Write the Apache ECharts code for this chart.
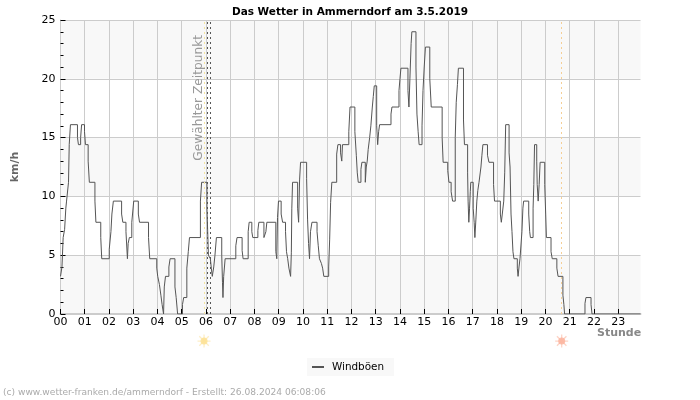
<!DOCTYPE html>
<html>
<head>
<meta charset="utf-8">
<title>Das Wetter in Ammerndorf</title>
<script src="https://cdn.jsdelivr.net/npm/echarts@6/dist/echarts.min.js"></script>
<style>
html,body{margin:0;padding:0;background:#fff;}
#main{width:700px;height:400px;}
</style>
</head>
<body>
<div id="main"></div>
<script>
// Stunden (dezimal) und Windboeen in km/h
var hours = [
 0,.06,.11,.17,.22,.25,.33,.36,.41,.70,
 .74,.83,.87,.99,1.03,1.14,1.19,1.42,1.46,1.66,
 1.70,2.01,2.08,2.12,2.18,2.52,2.57,2.70,2.76,2.79,
 2.84,2.94,3.02,3.21,3.26,3.63,3.68,3.97,4.01,4.08,
 4.14,4.19,4.25,4.28,4.33,4.47,4.52,4.72,4.77,4.83,
 5.03,5.08,5.21,5.27,5.32,5.77,5.82,6.04,6.10,6.18,
 6.22,6.26,6.32,6.37,6.43,6.65,6.68,6.70,6.73,6.79,
 7.23,7.28,7.49,7.53,7.74,7.78,7.89,7.93,8.14,8.18,
 8.39,8.47,8.51,8.88,8.92,8.95,8.99,9.10,9.16,9.28,
 9.32,9.37,9.42,9.49,9.52,9.54,9.57,9.78,9.82,9.86,
 9.90,10.15,10.19,10.23,10.27,10.31,10.37,10.58,10.63,10.68,
 10.76,10.81,10.86,11.06,11.10,11.14,11.19,11.39,11.44,11.55,
 11.60,11.63,11.89,11.94,12.14,12.20,12.24,12.28,12.39,12.43,
 12.57,12.61,12.65,12.69,12.75,12.80,12.86,12.90,12.94,13.04,
 13.08,13.12,13.16,13.63,13.67,13.96,14.00,14.04,14.33,14.37,
 14.41,14.46,14.49,14.66,14.70,14.75,14.79,14.91,14.95,15.00,
 15.05,15.23,15.29,15.74,15.78,15.97,16.02,16.11,16.17,16.28,
 16.32,16.37,16.41,16.62,16.66,16.79,16.81,16.84,16.87,16.90,
 16.92,17.02,17.06,17.09,17.13,17.17,17.21,17.26,17.34,17.38,
 17.42,17.61,17.67,17.86,17.90,18.14,18.18,18.22,18.28,18.32,
 18.36,18.50,18.54,18.58,18.62,18.66,18.70,18.84,18.87,18.91,
 18.95,19.03,19.07,19.10,19.31,19.35,19.38,19.49,19.52,19.55,
 19.64,19.66,19.70,19.74,19.78,19.97,20.01,20.04,20.23,20.28,
 20.47,20.52,20.72,20.76,20.79,21.63,21.67,21.88,21.92,23.92
];
var gusts = [
 3.2,4,6.5,7.2,9,9.6,11.2,14.4,16.1,15,
 14.4,15,16.1,15.5,14.4,13,11.2,9.6,7.8,6.5,
 4.7,5.5,7,8.5,9.6,8.5,7.8,7,4.7,6,
 6.5,7.8,9.6,8.5,7.8,6.5,4.7,3.9,3.2,2.5,
 1.6,0.8,0,2.3,3.2,4,4.7,2.3,1.4,0,
 0.8,1.4,3.9,5.3,6.5,9.6,11.2,9,5,4.7,
 3.9,3.2,4,5,6.5,5,2.7,1.4,3.2,4.7,
 5.8,6.5,5.4,4.7,7,7.8,7,6.5,7.1,7.8,
 6.5,7,7.8,5.3,4.7,8.2,9.6,8.5,7.8,7,
 5.3,4.7,3.9,3.2,5.2,9,11.2,9,7.8,11.4,
 12.9,11.5,8,6,4.7,7,7.8,7,5.8,4.7,
 4.3,3.9,3.2,4,6.3,9.5,11.2,13.6,14.4,13.7,
 13,14.4,15.5,17.6,15.5,13.5,12,11.2,12.3,12.9,
 11.2,12.5,13,14,15,16,17.6,18.5,19.4,16,
 14.4,15.5,16.1,17,17.6,19,20,20.9,19,17.6,
 20,23,24,21,17,15.5,14.4,16,19,21,
 22.7,20,17.6,15,12.9,12.2,11.2,10.4,9.6,15,
 18,19.5,20.9,16.5,14.4,12,9.6,7.8,9,10.4,
 11.2,9,7.8,6.5,8,9.6,10.5,11.2,12.5,13.5,
 14.4,13.5,12.9,11,9.6,8.5,7.8,8.5,9.6,12,
 16.1,13.7,12.5,8.5,7,5.3,4.7,3.9,3.2,4,
 4.7,7,9,9.6,8.5,7,6.5,9,11,14.4,
 13,11,9.6,11,12.9,11,8.5,6.5,5.3,4.7,
 3.9,3.2,1.6,0.8,0,0.9,1.4,0.8,0,0
];
var hourTicks = [0,1,2,3,4,5,6,7,8,9,10,11,12,13,14,15,16,17,18,19,20,21,22,23];
var sunrise = 5.92;
var sunset = 20.67;
var selected = [6.04, 6.19];

var gustData = [];
for (var i = 0; i < hours.length; i++) {
    gustData.push([hours[i], gusts[i]]);
}

// Sonnensymbol: Strahlen als Balken
var rays = 'path://M45 0H55V100H45ZM0 45H100V55H0ZM17 10L90 83L83 90L10 17ZM83 10L90 17L17 90L10 83Z';

var myChart = echarts.init(document.getElementById('main'), null, {renderer: 'canvas'});
var font = '"DejaVu Sans", sans-serif';

myChart.setOption({
    animation: false,
    backgroundColor: '#fff',
    textStyle: {fontFamily: font},
    title: {
        text: 'Das Wetter in Ammerndorf am 3.5.2019',
        left: 345,
        top: 2,
        textAlign: 'center',
        textStyle: {fontSize: 10.5, fontWeight: 'bold', color: '#000', fontFamily: font}
    },
    legend: {
        left: 307,
        top: 358,
        padding: [4, 10, 4, 5],
        icon: 'rect',
        itemWidth: 12,
        itemHeight: 2,
        itemGap: 0,
        backgroundColor: '#f8f8f8',
        data: ['Windböen'],
        itemStyle: {color: '#555'},
        textStyle: {fontSize: 10.4, color: '#000', fontFamily: font, padding: [0, 0, 0, 3]}
    },
    grid: {left: 60.5, right: 59.5, top: 20, height: 294},
    xAxis: {
        type: 'value',
        min: 0,
        max: 23.92,
        interval: 1,
        z: 3,
        axisLine: {show: true, onZero: false, lineStyle: {color: '#ccc', width: 2}},
        axisTick: {show: true, inside: true, length: 5, customValues: hourTicks, lineStyle: {color: '#000'}},
        axisLabel: {
            customValues: hourTicks,
            margin: 3,
            fontSize: 11,
            color: '#000',
            fontFamily: font,
            formatter: function (v) { return (v < 10 ? '0' : '') + v; }
        },
        splitLine: {show: true, lineStyle: {color: '#ccc', width: 1}}
    },
    yAxis: {
        type: 'value',
        min: 0,
        max: 25,
        interval: 5,
        z: 3,
        name: 'km/h',
        nameLocation: 'middle',
        nameRotate: 90,
        nameGap: 40,
        nameTextStyle: {fontSize: 11, fontWeight: 'bold', color: '#666', fontFamily: font},
        axisLine: {show: true, lineStyle: {color: '#ccc', width: 1}},
        axisTick: {show: true, inside: true, length: 5, lineStyle: {color: '#000'}},
        minorTick: {show: true, splitNumber: 5, length: 3, lineStyle: {color: '#000'}},
        axisLabel: {margin: 5, fontSize: 11, color: '#000', fontFamily: font},
        splitLine: {show: true, lineStyle: {color: '#ccc', width: 1}},
        splitArea: {show: true, areaStyle: {color: ['#f8f8f8', '#ffffff']}}
    },
    series: [
        {
            name: 'Windböen',
            type: 'line',
            step: 'end',
            symbol: 'none',
            data: gustData,
            lineStyle: {color: '#555', width: 1},
            itemStyle: {color: '#555'},
            markLine: {
                silent: true,
                symbol: 'none',
                label: {show: false},
                data: [
                    {xAxis: sunrise, lineStyle: {color: '#f5e6a0', type: [2, 3], width: 1}},
                    {xAxis: selected[0], lineStyle: {color: '#555', type: [2, 3], width: 1}},
                    {xAxis: selected[1], lineStyle: {color: '#555', type: [2, 3], width: 1}},
                    {xAxis: sunset, lineStyle: {color: '#f5cf96', type: [2, 3], width: 1}}
                ]
            }
        },
        {
            type: 'scatter',
            clip: false,
            silent: true,
            symbol: rays,
            symbolSize: 13,
            z: 2,
            data: [{value: [sunrise, -2.3], itemStyle: {color: '#fdeab8'}}, {value: [sunset, -2.3], itemStyle: {color: '#fcc9b8'}}]
        },
        {
            type: 'scatter',
            clip: false,
            silent: true,
            symbolSize: 7,
            z: 3,
            data: [{value: [sunrise, -2.3], itemStyle: {color: '#fde08e'}}, {value: [sunset, -2.3], itemStyle: {color: '#fbb09a'}}]
        }
    ],
    graphic: [
        {
            type: 'text',
            left: 193,
            top: 35,
            rotation: Math.PI / 2,
            style: {text: 'Gewählter Zeitpunkt', fill: '#999', font: '12.2px "DejaVu Sans"'},
            z: 10,
            silent: true
        },
        {
            type: 'text',
            left: 597,
            top: 328,
            style: {text: 'Stunde', fill: '#888', font: 'bold 11px "DejaVu Sans"'},
            silent: true
        },
        {
            type: 'text',
            left: 3,
            top: 388,
            style: {text: '(c) www.wetter-franken.de/ammerndorf - Erstellt: 26.08.2024 06:08:06', fill: '#aaa', font: '9.1px "DejaVu Sans"'},
            silent: true
        }
    ]
});
</script>
</body>
</html>
